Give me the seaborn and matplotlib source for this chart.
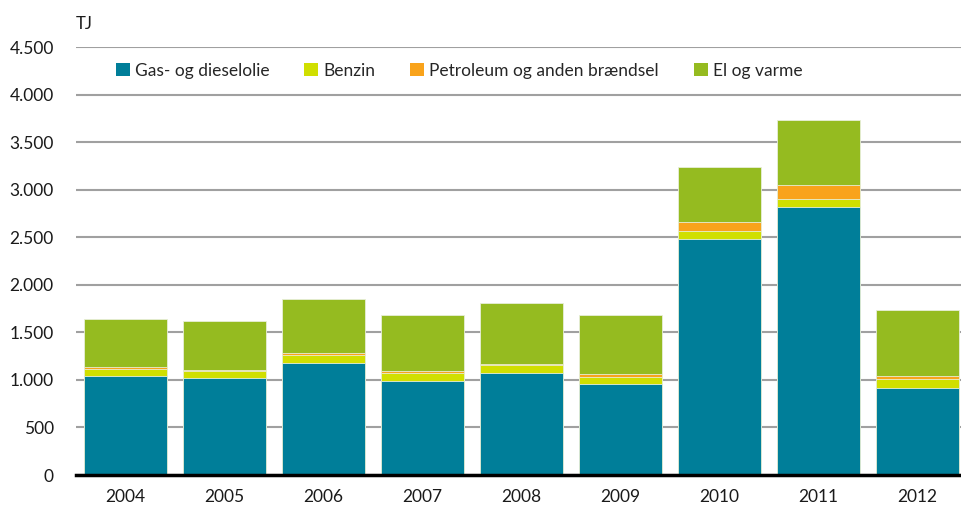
import matplotlib
matplotlib.use("Agg")
import matplotlib.pyplot as plt
import seaborn as sns
import numpy as np
import pandas as pd
from matplotlib.patches import Patch
from matplotlib.ticker import FuncFormatter

years = ["2004", "2005", "2006", "2007", "2008", "2009", "2010", "2011", "2012"]
gas = [1040, 1020, 1180, 990, 1070, 955, 2483, 2820, 918]
benzin = [74, 73, 85, 81, 84, 78, 81, 81, 91]
petroleum = [18, 7, 17, 21, 17, 25, 91, 144, 28]
el = [508, 520, 568, 586, 635, 627, 582, 683, 700]

series_names = ["Gas- og dieselolie", "Benzin", "Petroleum og anden brændsel", "El og varme"]
colors = ["#007e99", "#d0df00", "#f9a31b", "#95bb20"]

sns.set_theme(style="white")
plt.rcParams["font.family"] = ["Lato", "DejaVu Sans"]

df = pd.DataFrame({"year": years, "gas": gas, "benzin": benzin,
                   "petroleum": petroleum, "el": el})
layers = [df["gas"], df["benzin"], df["petroleum"], df["el"]]
cum = np.cumsum(np.vstack(layers), axis=0)

fig = plt.figure(figsize=(9.61, 5.08), dpi=100)
ax = fig.add_axes([76 / 961, 33 / 508, 891 / 961, 428 / 508])

for i in range(3, -1, -1):
    sns.barplot(x=df["year"], y=cum[i], color=colors[i], ax=ax, width=0.84,
                edgecolor="#e8efd8", linewidth=0.6, saturation=1, zorder=3)

ax.set_ylim(0, 4500)
ax.set_xlim(-0.5, 8.5)
ax.set_yticks(np.arange(0, 4501, 500))
ax.yaxis.set_major_formatter(FuncFormatter(lambda v, p: f"{int(v):,}".replace(",", ".")))
ax.grid(axis="y", color="#a0a0a0", linewidth=1.5, zorder=0)
ax.set_axisbelow(True)
for s in ["top", "right", "left"]:
    ax.spines[s].set_visible(False)
ax.spines["bottom"].set_color("black")
ax.spines["bottom"].set_linewidth(2.5)
ax.spines["bottom"].set_zorder(5)
ax.set_xlabel("")
ax.set_ylabel("")
ax.tick_params(axis="both", length=0, labelsize=12.5, colors="#1a1a1a")
ax.tick_params(axis="x", pad=10)
ax.tick_params(axis="y", pad=16)
for lbl in ax.get_yticklabels():
    lbl.set_horizontalalignment("right")

fig.text(76 / 961, 1 - 24 / 508, "TJ", fontsize=12, color="#1a1a1a", va="center", ha="left")

handles = [Patch(facecolor=c, edgecolor="none") for c in colors]
leg = ax.legend(handles, series_names, ncol=4, loc="upper left",
                bbox_to_anchor=(0.037, 0.98), frameon=True, fontsize=12.5,
                handlelength=0.8, handleheight=0.8, handletextpad=0.3,
                columnspacing=2.0, borderaxespad=0)
leg.get_frame().set_facecolor("white")
leg.get_frame().set_edgecolor("none")
leg.get_frame().set_alpha(1)
leg.set_zorder(6)

fig.savefig("out.png", dpi=100)
